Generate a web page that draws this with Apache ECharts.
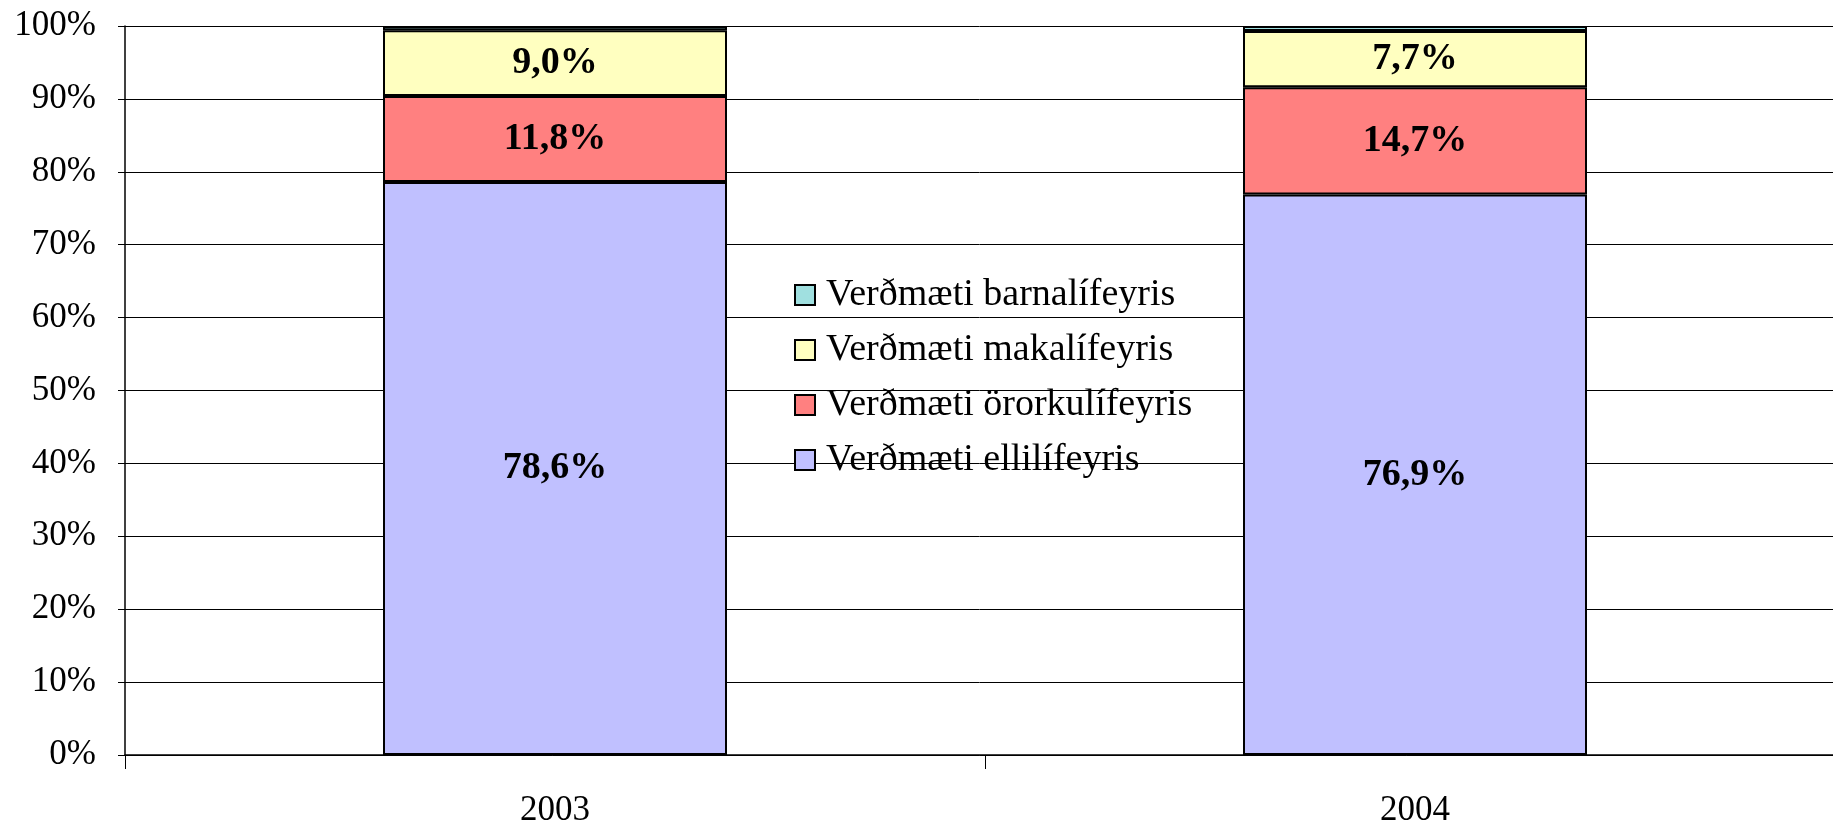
<!DOCTYPE html>
<html>
<head>
<meta charset="utf-8">
<script src="https://cdn.jsdelivr.net/npm/echarts@6/dist/echarts.min.js"></script>
<style>
	html, body { margin: 0; padding: 0; background: #fff; }
	#chart { width: 1833px; height: 826px; }
</style>
</head>
<body>
<div id="chart"></div>
<script>
	// data (percent of total)
	var years = ['2003', '2004'];
	var elli = [78.6, 76.9];
	var ororku = [11.8, 14.7];
	var maka = [9.0, 7.7];
	var barna = [0.6, 0.7];
	var yTicks = [0, 10, 20, 30, 40, 50, 60, 70, 80, 90, 100];

	var font = "'Liberation Serif', 'Times New Roman', serif";

	function pct(p) {
		return p.value.toFixed(1).replace('.', ',') + '%';
	}

	function bar(name, data, color, showLabel) {
		return {
			name: name,
			type: 'bar',
			stack: 'total',
			barWidth: '40%',
			data: data,
			itemStyle: { color: color, borderColor: '#000', borderWidth: 2 },
			label: {
				show: showLabel,
				position: 'inside',
				formatter: pct,
				color: '#000',
				fontFamily: font,
				fontWeight: 'bold',
				fontSize: 38
			}
		};
	}

	var myChart = echarts.init(document.getElementById('chart'));
	var option = {
		animation: false,
		grid: { left: 125, right: -12, top: 26, bottom: 71, outerBoundsMode: 'none' },
		legend: {
			orient: 'vertical',
			left: 789,
			top: 271,
			icon: 'rect',
			itemWidth: 20,
			itemHeight: 20,
			itemGap: 17,
			data: ['Verðmæti barnalífeyris', 'Verðmæti makalífeyris', 'Verðmæti örorkulífeyris', 'Verðmæti ellilífeyris'],
			itemStyle: { borderColor: '#000', borderWidth: 2 },
			textStyle: { fontFamily: font, fontSize: 38, color: '#000', lineHeight: 33, padding: [0, 0, 0, 6] }
		},
		xAxis: {
			type: 'category',
			data: years,
			axisLine: { lineStyle: { color: '#000', width: 1.5 } },
			axisTick: { show: true, length: 14, lineStyle: { color: '#000' } },
			axisLabel: { margin: 38, color: '#000', fontFamily: font, fontSize: 35 }
		},
		yAxis: {
			type: 'value',
			min: yTicks[0],
			max: yTicks[yTicks.length - 1],
			interval: 10,
			axisLine: { show: true, lineStyle: { color: '#000', width: 1.5 } },
			axisTick: { show: true, length: 7, lineStyle: { color: '#000' } },
			axisLabel: { margin: 29, color: '#000', fontFamily: font, fontSize: 35, formatter: '{value}%' },
			splitLine: { lineStyle: { color: '#000', width: 1 } }
		},
		series: [
			bar('Verðmæti ellilífeyris', elli, '#C0C0FF', true),
			bar('Verðmæti örorkulífeyris', ororku, '#FF8080', true),
			bar('Verðmæti makalífeyris', maka, '#FFFFC0', true),
			bar('Verðmæti barnalífeyris', barna, '#A0E0E0', false)
		]
	};
	myChart.setOption(option);
</script>
</body>
</html>
